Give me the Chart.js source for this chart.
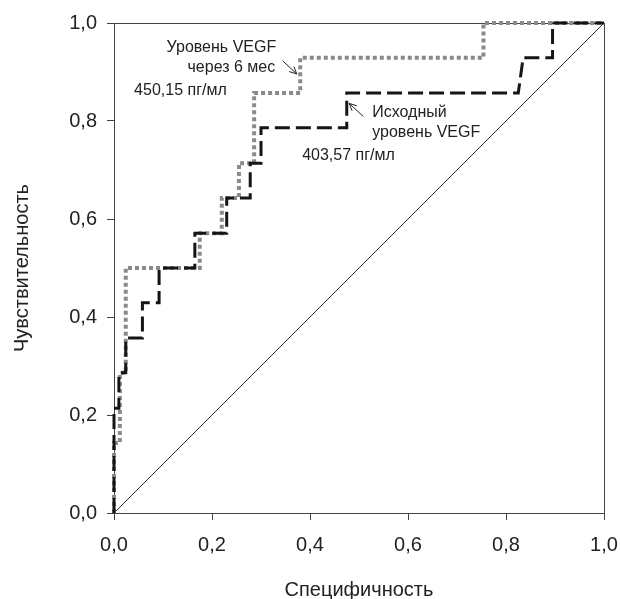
<!DOCTYPE html>
<html lang="ru">
<head>
    <meta charset="UTF-8">
    <title>ROC VEGF</title>
    <style>
        html, body {
            margin: 0;
            padding: 0;
            background: #fff;
        }

        .chart-container {
            width: 621px;
            height: 599px;
        }
    </style>
</head>
<body>
    <div class="chart-container">
        <canvas id="rocChart"></canvas>
    </div>

    <script src="https://cdn.jsdelivr.net/npm/chart.js"></script>
    <script>
        // Исходный уровень VEGF (black dashed)
        const fprBase = [0, 0, 0.01, 0.01, 0.024, 0.024, 0.058, 0.058, 0.092, 0.092, 0.165, 0.165, 0.23, 0.23, 0.278, 0.278, 0.3, 0.3, 0.475, 0.475, 0.825, 0.835, 0.895, 0.895, 1];
        const tprBase = [0, 0.214, 0.214, 0.286, 0.286, 0.357, 0.357, 0.429, 0.429, 0.5, 0.5, 0.571, 0.571, 0.643, 0.643, 0.714, 0.714, 0.786, 0.786, 0.857, 0.857, 0.929, 0.929, 1, 1];

        // Уровень VEGF через 6 мес (grey dotted)
        const fpr6m = [0, 0, 0.012, 0.012, 0.024, 0.024, 0.175, 0.175, 0.22, 0.22, 0.255, 0.255, 0.286, 0.286, 0.38, 0.38, 0.754, 0.754, 1];
        const tpr6m = [0, 0.143, 0.143, 0.286, 0.286, 0.5, 0.5, 0.571, 0.571, 0.643, 0.643, 0.714, 0.714, 0.857, 0.857, 0.929, 0.929, 1, 1];

        // reference diagonal
        const refX = [0, 1];
        const refY = [0, 1];

        const tickValues = [0, 0.2, 0.4, 0.6, 0.8, 1];

        // annotation texts, anchored in data coordinates
        const noteTexts = ['Уровень VEGF', 'через 6 мес', '450,15 пг/мл', 'Исходный', 'уровень VEGF', '403,57 пг/мл'];
        const noteX = [0.331, 0.329, 0.041, 0.527, 0.527, 0.384];
        const noteY = [0.949, 0.908, 0.863, 0.818, 0.776, 0.729];
        const noteAlign = ['right', 'right', 'left', 'left', 'left', 'left'];

        // arrows: [fromX, fromY, toX, toY]
        const arrows = [
            [0.344, 0.923, 0.373, 0.896],
            [0.509, 0.809, 0.480, 0.836]
        ];

        function toPoints(xs, ys) {
            return xs.map((x, i) => ({ x: x, y: ys[i] }));
        }

        const fmt = v => Number(v).toFixed(1).replace('.', ',');
        const axisFont = { family: '"Liberation Sans", Arial, sans-serif', size: 20 };

        const notesPlugin = {
            id: 'notes',
            beforeDatasetsDraw(chart) {
                const { ctx, chartArea: a } = chart;
                ctx.save();
                ctx.strokeStyle = '#444';
                ctx.lineWidth = 1;
                ctx.strokeRect(a.left + 0.5, a.top + 0.5, a.right - a.left, a.bottom - a.top);
                ctx.restore();
            },
            afterDatasetsDraw(chart) {
                const { ctx } = chart;
                const xs = chart.scales.x, ys = chart.scales.y;
                ctx.save();
                ctx.fillStyle = '#222';
                ctx.font = '16px "Liberation Sans", Arial, sans-serif';
                ctx.textBaseline = 'middle';
                noteTexts.forEach((t, i) => {
                    ctx.textAlign = noteAlign[i];
                    ctx.fillText(t, xs.getPixelForValue(noteX[i]), ys.getPixelForValue(noteY[i]));
                });

                ctx.strokeStyle = '#222';
                ctx.lineWidth = 1;
                arrows.forEach(ar => {
                    const x1 = xs.getPixelForValue(ar[0]), y1 = ys.getPixelForValue(ar[1]);
                    const x2 = xs.getPixelForValue(ar[2]), y2 = ys.getPixelForValue(ar[3]);
                    const ang = Math.atan2(y2 - y1, x2 - x1);
                    ctx.beginPath();
                    ctx.moveTo(x1, y1);
                    ctx.lineTo(x2, y2);
                    ctx.moveTo(x2 - 8 * Math.cos(ang - 0.45), y2 - 8 * Math.sin(ang - 0.45));
                    ctx.lineTo(x2, y2);
                    ctx.lineTo(x2 - 8 * Math.cos(ang + 0.45), y2 - 8 * Math.sin(ang + 0.45));
                    ctx.stroke();
                });
                ctx.restore();
            }
        };

        const ctx = document.getElementById('rocChart').getContext('2d');
        new Chart(ctx, {
            type: 'line',
            data: {
                datasets: [
                    {
                        label: 'Исходный уровень VEGF',
                        data: toPoints(fprBase, tprBase),
                        borderColor: '#151515',
                        borderWidth: 3,
                        borderDash: [15, 6],
                        borderCapStyle: 'butt',
                        pointRadius: 0,
                        tension: 0,
                        fill: false,
                        clip: false
                    },
                    {
                        label: 'Уровень VEGF через 6 мес',
                        data: toPoints(fpr6m, tpr6m),
                        borderColor: '#8a8a8a',
                        borderWidth: 4,
                        borderDash: [4, 3],
                        borderCapStyle: 'butt',
                        pointRadius: 0,
                        tension: 0,
                        fill: false,
                        clip: false
                    },
                    {
                        label: 'Диагональ',
                        data: toPoints(refX, refY),
                        borderColor: '#333',
                        borderWidth: 1,
                        pointRadius: 0,
                        fill: false
                    }
                ]
            },
            options: {
                responsive: true,
                maintainAspectRatio: false,
                animation: false,
                layout: {
                    padding: { top: 23, right: 17, bottom: 0, left: 0 }
                },
                plugins: {
                    legend: { display: false },
                    tooltip: { enabled: false }
                },
                scales: {
                    x: {
                        type: 'linear',
                        min: 0,
                        max: 1,
                        afterBuildTicks: s => { s.ticks = tickValues.map(v => ({ value: v })); },
                        afterFit: s => {
                            s.height = 86;
                            s.paddingLeft = 0;
                            s.paddingRight = 0;
                        },
                        grid: {
                            drawOnChartArea: false,
                            drawTicks: true,
                            tickLength: 7,
                            color: '#444'
                        },
                        border: { display: true, color: '#444', width: 1 },
                        ticks: {
                            padding: 13,
                            color: '#222',
                            font: axisFont,
                            callback: fmt,
                            maxRotation: 0
                        },
                        title: {
                            display: true,
                            text: 'Специфичность',
                            color: '#222',
                            padding: { top: 0, bottom: -3 },
                            font: axisFont
                        }
                    },
                    y: {
                        type: 'linear',
                        min: 0,
                        max: 1,
                        afterBuildTicks: s => { s.ticks = tickValues.map(v => ({ value: v })); },
                        afterFit: s => {
                            s.width = 114;
                            s.paddingTop = 0;
                            s.paddingBottom = 0;
                        },
                        grid: {
                            drawOnChartArea: false,
                            drawTicks: true,
                            tickLength: 7,
                            color: '#444'
                        },
                        border: { display: true, color: '#444', width: 1 },
                        ticks: {
                            padding: 10,
                            color: '#222',
                            font: axisFont,
                            callback: fmt
                        },
                        title: {
                            display: true,
                            text: 'Чувствительность',
                            color: '#222',
                            padding: { top: 10, bottom: 0 },
                            font: axisFont
                        }
                    }
                }
            },
            plugins: [notesPlugin]
        });
    </script>
</body>
</html>
